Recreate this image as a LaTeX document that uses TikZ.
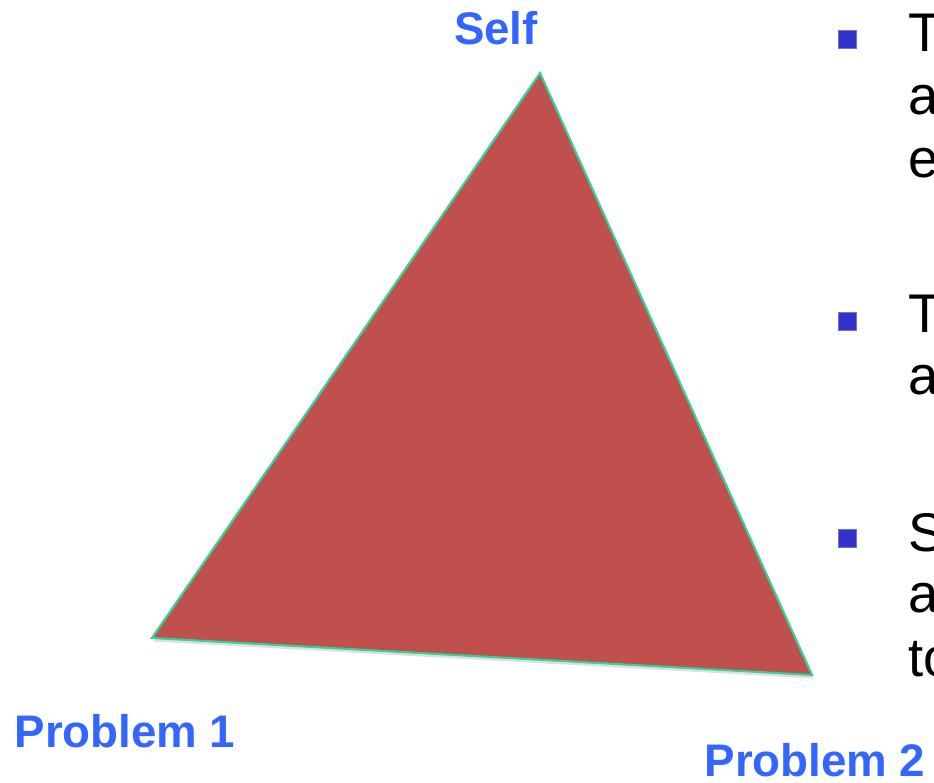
\documentclass[tikz,border=0pt]{standalone}
\usepackage{fontspec}
\setmainfont{Liberation Sans}
\usetikzlibrary{positioning,shadows}

\definecolor{corner}{RGB}{51,102,255}
\definecolor{areafill}{RGB}{192,80,77}
\definecolor{edgeline}{RGB}{51,210,150}
\definecolor{bulletblue}{RGB}{51,51,204}

\tikzset{
  vertexlabel/.style={text=corner,font=\bfseries\fontsize{26}{30}\selectfont,inner sep=0pt,anchor=base},
  bodytext/.style={font=\fontsize{31}{37}\selectfont,inner sep=0pt,anchor=base west},
  bulletmark/.style={fill=bulletblue,draw=bulletblue!70!white,line width=0.3pt,minimum size=0.36cm,inner sep=0pt}
}

\begin{document}
\begin{tikzpicture}[x=0.02cm,y=-0.02cm]
  \clip (0,0) rectangle (934,783);
  % corners of the triangle
  \coordinate (self) at (540,73);
  \coordinate (probA) at (152,638);
  \coordinate (probB) at (812,675);
  % the triangle
  \filldraw[fill=areafill,draw=edgeline,line width=1.2pt,line join=miter,
    drop shadow={shadow xshift=0.03cm,shadow yshift=-0.07cm,opacity=0.25}]
      (self) -- (probB) -- (probA) -- cycle;
  % corner labels
  \node[vertexlabel] (selflabel) at (496,45) {Self};
  \node[vertexlabel] (problabelA) at (125,748) {Problem 1};
  \node[vertexlabel] (problabelB) at (815,777) {Problem 2};
  % bullet list on the right
  \node[bulletmark] (bulletA) at (847,39) {};
  \node[bodytext] (lineAa) at (908,52) {T};
  \node[bodytext] (lineAb) at (908,115) {a};
  \node[bodytext] (lineAc) at (908,178) {e};
  \node[bulletmark] (bulletB) at (847,321) {};
  \node[bodytext] (lineBa) at (908,333) {T};
  \node[bodytext] (lineBb) at (908,395) {a};
  \node[bulletmark] (bulletC) at (847,538) {};
  \node[bodytext] (lineCa) at (908,552) {S};
  \node[bodytext] (lineCb) at (908,613) {a};
  \node[bodytext] (lineCc) at (908,677) {to};
\end{tikzpicture}
\end{document}
